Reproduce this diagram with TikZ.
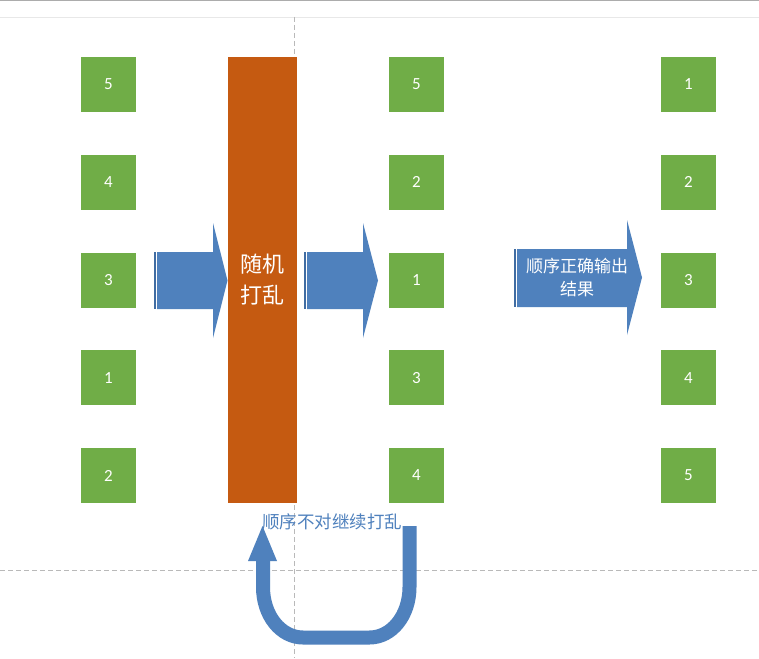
\documentclass[tikz,border=0pt]{standalone}
\usepackage{fontspec}
\setmainfont{Carlito}
\newfontfamily\cjk{Noto Sans CJK SC}
\definecolor{boxgreen}{RGB}{112,173,71}
\definecolor{barorange}{RGB}{197,90,17}
\definecolor{arrowblue}{RGB}{79,129,189}
\definecolor{stripeblue}{RGB}{64,108,162}
\definecolor{labelblue}{RGB}{79,129,189}
\begin{document}
\begin{tikzpicture}[x=1pt,y=-1pt,
  numbox/.style={fill=boxgreen, minimum width=55pt, minimum height=55pt, inner sep=0pt, text=white, font=\fontsize{17}{17}\selectfont},
  guide/.style={draw=gray!55, line width=0.7pt, dash pattern=on 5pt off 3pt},
  blockarrow/.style={fill=arrowblue},
  stripe/.style={fill=stripeblue},
  whitetext/.style={text=white, align=center, inner sep=0pt}
]
\useasboundingbox (0,0) rectangle (759,658);
\fill[white] (0,0) rectangle (759,658);
% page guides
\draw[gray!65, line width=1.2pt] (0,0.8) -- (759,0.8);
\draw[gray!18, line width=0.8pt] (0,17) -- (759,17);
\draw[guide] (294,17) -- (294,658);
\draw[guide] (0,570) -- (759,570);

% green boxes
\foreach \col/\x/\lst in {L/108.5/{5,4,3,1,2}, M/416.5/{5,2,1,3,4}, R/688.5/{1,2,3,4,5}}{
  \foreach \v [count=\i] in \lst {
    \node[numbox] (\col\i) at (\x, {84.5+97.75*(\i-1)}) {\v};
  }
}

% orange bar
\node[fill=barorange, minimum width=69pt, minimum height=446pt, inner sep=0pt, anchor=north west] (bar) at (228,57) {};
\node[whitetext, font=\cjk\fontsize{22}{31}\selectfont] (bartext) at (262.5,280) {随机\\打乱};

% arrow 1
\fill[stripe] (154,252) rectangle (155.6,309);
\fill[blockarrow] (157,252) -- (213,252) -- (213,223) -- (227.5,280.5) -- (213,338) -- (213,309) -- (157,309) -- cycle;
% arrow 2
\fill[stripe] (304,252) rectangle (305.6,309);
\fill[blockarrow] (307,252) -- (363,252) -- (363,223) -- (378,280.5) -- (363,338) -- (363,309) -- (307,309) -- cycle;
% arrow 3
\fill[stripe] (514,249) rectangle (515.6,307);
\fill[blockarrow] (517,249) -- (627,249) -- (627,220) -- (642,277.5) -- (627,335) -- (627,307) -- (517,307) -- cycle;
\node[whitetext, font=\cjk\fontsize{17}{23}\selectfont] (outtext) at (577,277.5) {顺序正确输出\\结果};

% U-turn arrow
\coordinate (uright) at (409.5,526);
\coordinate (uhead) at (262.5,526);
\draw[arrowblue, line width=14pt]
  (uright) -- (409.5,587)
  .. controls (409.5,615.7) and (391.6,637.5) .. (369.5,637.5)
  -- (303,637.5)
  .. controls (280.9,637.5) and (263,615.7) .. (263,587)
  -- (263,560);
\fill[arrowblue] (248,561) -- (uhead) -- (277,561) -- cycle;
\node[text=labelblue, font=\cjk\fontsize{17.5}{20}\selectfont, inner sep=0pt] (loop) at (332,522) {顺序不对继续打乱};
\end{tikzpicture}
\end{document}
